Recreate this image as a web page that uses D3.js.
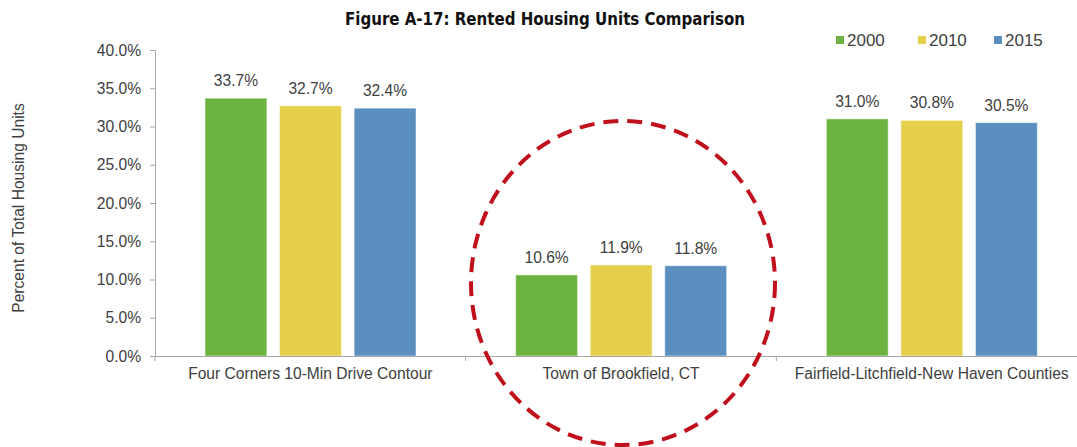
<!DOCTYPE html>
<html>
<head>
<meta charset="utf-8">
<script src="https://cdn.jsdelivr.net/npm/d3@7"></script>
<style>
  html, body { margin: 0; padding: 0; background: #fff; }
  svg { display: block; }
</style>
</head>
<body>
<svg id="chart" width="1077" height="447"></svg>
<script>
const categories = ["Four Corners 10-Min Drive Contour", "Town of Brookfield, CT", "Fairfield-Litchfield-New Haven Counties"];
const seriesNames = ["2000", "2010", "2015"];
const values2000 = [33.7, 10.6, 31.0];
const values2010 = [32.7, 11.9, 30.8];
const values2015 = [32.4, 11.8, 30.5];
const yTicks = [0, 5, 10, 15, 20, 25, 30, 35, 40];
const colors = ["#6cb33f", "#e6d04b", "#5a8fbf"];

const seriesValues = [values2000, values2010, values2015];
const data = categories.map((c, i) => ({
  category: c,
  values: seriesNames.map((s, j) => ({ series: s, value: seriesValues[j][i] }))
}));

const svg = d3.select("#chart");
const textColor = "#404040";
const axisColor = "#a6a6a6";
const font = "'Liberation Sans', Arial, sans-serif";
const fs = 15.6;

const x0 = d3.scaleBand().domain(categories).range([155, 1087]).paddingInner(0).paddingOuter(0);
const x1 = d3.scaleBand().domain(seriesNames).range([50, 261]).paddingInner(0.17).paddingOuter(0);
const y = d3.scaleLinear().domain([0, 40]).range([356, 50]);
const color = d3.scaleOrdinal().domain(seriesNames).range(colors);

// Title
svg.append("text")
  .attr("x", 545).attr("y", 25)
  .attr("text-anchor", "middle")
  .attr("font-family", "'Liberation Sans Narrow', 'DejaVu Sans Condensed', sans-serif")
  .attr("font-weight", "bold")
  .attr("font-size", 17)
  .attr("fill", "#111")
  .attr("textLength", 400)
  .attr("lengthAdjust", "spacingAndGlyphs")
  .text("Figure A-17: Rented Housing Units Comparison");

// Y axis
const yAxis = svg.append("g")
  .attr("transform", "translate(155,0)")
  .call(d3.axisLeft(y).tickValues(yTicks).tickSize(5).tickPadding(9).tickFormat(d => d.toFixed(1) + "%"));
yAxis.select(".domain").attr("stroke", axisColor);
yAxis.selectAll(".tick line").attr("stroke", axisColor);
yAxis.selectAll(".tick text").attr("fill", textColor).attr("font-family", font).attr("font-size", fs);

// Y label
svg.append("text")
  .attr("transform", "translate(24,208) rotate(-90)")
  .attr("text-anchor", "middle")
  .attr("font-family", font)
  .attr("font-size", fs)
  .attr("fill", textColor)
  .text("Percent of Total Housing Units");

// Bars
const groups = svg.append("g").selectAll("g")
  .data(data).join("g")
  .attr("transform", d => `translate(${x0(d.category)},0)`);

groups.selectAll("rect")
  .data(d => d.values).join("rect")
  .attr("x", d => x1(d.series))
  .attr("y", d => y(d.value))
  .attr("width", x1.bandwidth())
  .attr("height", d => y(0) - y(d.value))
  .attr("fill", d => color(d.series))
  .attr("stroke", "#ffffff")
  .attr("stroke-opacity", 0.5)
  .attr("stroke-width", 1);

groups.selectAll("text.val")
  .data(d => d.values).join("text")
  .attr("class", "val")
  .attr("x", d => x1(d.series) + x1.bandwidth() / 2)
  .attr("y", d => y(d.value) - 12)
  .attr("text-anchor", "middle")
  .attr("font-family", font)
  .attr("font-size", fs)
  .attr("fill", textColor)
  .text(d => d.value.toFixed(1) + "%");

// X axis
const xAxis = svg.append("g")
  .attr("transform", "translate(0,356)")
  .call(d3.axisBottom(x0).tickSize(0).tickPadding(12));
xAxis.select(".domain").attr("stroke", axisColor);
xAxis.selectAll(".tick text").attr("fill", textColor).attr("font-family", font).attr("font-size", fs);
// category divider ticks
svg.append("g").selectAll("line")
  .data(categories.map(c => x0(c)).concat([x0.range()[1]]))
  .join("line")
  .attr("x1", d => d).attr("x2", d => d)
  .attr("y1", 356).attr("y2", 361)
  .attr("stroke", axisColor);

// Legend
const legend = svg.append("g");
const legendX = [836, 918, 994];
seriesNames.forEach((s, i) => {
  legend.append("rect")
    .attr("x", legendX[i]).attr("y", 36)
    .attr("width", 8).attr("height", 8)
    .attr("fill", color(s));
  legend.append("text")
    .attr("x", legendX[i] + 11).attr("y", 46)
    .attr("font-family", font)
    .attr("font-size", 17)
    .attr("fill", textColor)
    .text(s);
});

// Highlight ellipse around Brookfield
const bc = x0(categories[1]) + x0.bandwidth() / 2;
svg.append("ellipse")
  .attr("cx", bc + 2).attr("cy", 283)
  .attr("rx", 152).attr("ry", 162)
  .attr("fill", "none")
  .attr("stroke", "#c0101c")
  .attr("stroke-width", 4)
  .attr("stroke-dasharray", "15 9");
</script>
</body>
</html>
